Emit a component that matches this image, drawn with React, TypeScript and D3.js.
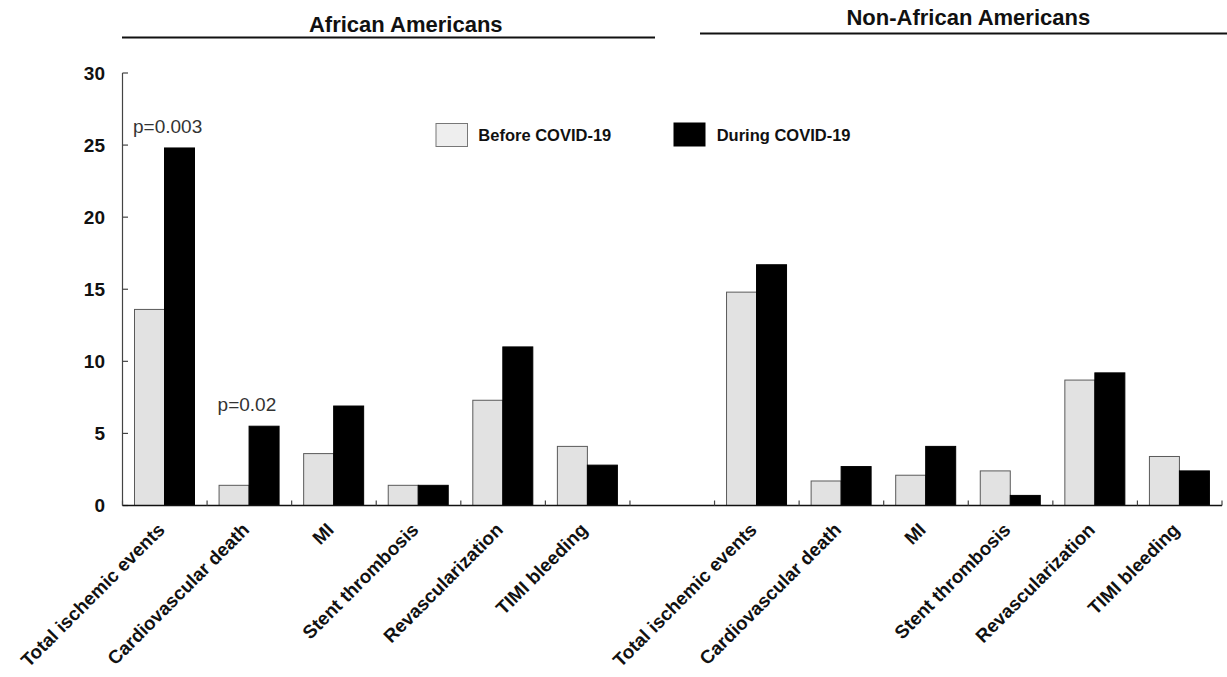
import React from "react";
import * as d3 from "d3";

// Outcome categories shown in each population panel
const categories: string[] = [
  "Total ischemic events",
  "Cardiovascular death",
  "MI",
  "Stent thrombosis",
  "Revascularization",
  "TIMI bleeding",
];

const groups: string[] = ["African Americans", "Non-African Americans"];
const seriesNames: string[] = ["Before COVID-19", "During COVID-19"];

// Event rates (%) per category
const beforeAfricanAmerican: number[] = [13.6, 1.4, 3.6, 1.4, 7.3, 4.1];
const duringAfricanAmerican: number[] = [24.8, 5.5, 6.9, 1.4, 11.0, 2.8];
const beforeNonAfricanAmerican: number[] = [14.8, 1.7, 2.1, 2.4, 8.7, 3.4];
const duringNonAfricanAmerican: number[] = [16.7, 2.7, 4.1, 0.7, 9.2, 2.4];

const yTicks: number[] = [0, 5, 10, 15, 20, 25, 30];

// p-value annotations: group index, category index, text
const pValues: { group: number; cat: number; text: string }[] = [
  { group: 0, cat: 0, text: "p=0.003" },
  { group: 0, cat: 1, text: "p=0.02" },
];

const W = 1227;
const H = 677;
const FONT = "'Liberation Sans', Arial, Helvetica, sans-serif";
const LIGHT = "#e2e2e2";

export default function App() {
  // slots: 6 categories, an empty gap slot, 6 categories
  const slotKeys: string[] = [
    ...categories.map((_, i) => `g0-${i}`),
    "gap",
    ...categories.map((_, i) => `g1-${i}`),
  ];
  const x = d3.scaleBand<string>().domain(slotKeys).range([122.5, 1222]).padding(0);
  const inner = d3
    .scaleBand<string>()
    .domain(seriesNames)
    .range([12, 72])
    .padding(0);
  const y = d3.scaleLinear().domain([0, 30]).range([505.5, 73]);

  // seriesByGroup[group][series][category]
  const seriesByGroup: number[][][] = [
    [beforeAfricanAmerican, duringAfricanAmerican],
    [beforeNonAfricanAmerican, duringNonAfricanAmerican],
  ];

  const bars: { key: string; x: number; w: number; v: number; s: number }[] = [];
  groups.forEach((_g, g) => {
    categories.forEach((_c, c) => {
      seriesNames.forEach((sn, s) => {
        bars.push({
          key: `${g}-${c}-${s}`,
          x: (x(`g${g}-${c}`) as number) + (inner(sn) as number),
          w: inner.bandwidth(),
          v: seriesByGroup[g][s][c],
          s,
        });
      });
    });
  });

  const boundaries = d3.range(slotKeys.length + 1).map(
    (i) => x.range()[0] + i * x.step()
  );

  const labelSlots = slotKeys.filter((k) => k !== "gap");

  return (
    <svg
      width={W}
      height={H}
      viewBox={`0 0 ${W} ${H}`}
      style={{ position: "absolute", left: 0, top: 0, display: "block", background: "#fff" }}
      fontFamily={FONT}
    >
      <rect x={0} y={0} width={W} height={H} fill="#fff" />

      {/* Panel headers */}
      <text x={405.8} y={31.7} textAnchor="middle" fontSize={22} fontWeight="bold" fill="#111">
        {groups[0]}
      </text>
      <line x1={122} x2={655} y1={37.5} y2={37.5} stroke="#111" strokeWidth={2} />
      <text x={968.3} y={25} textAnchor="middle" fontSize={22} fontWeight="bold" fill="#111">
        {groups[1]}
      </text>
      <line x1={700} x2={1227} y1={33.5} y2={33.5} stroke="#111" strokeWidth={2} />

      {/* Bars */}
      {bars.map((b) => (
        <rect
          key={b.key}
          x={b.x}
          y={y(b.v)}
          width={b.w}
          height={y(0) - y(b.v)}
          fill={b.s === 0 ? LIGHT : "#000"}
          stroke={b.s === 0 ? "#5a5a5a" : "#000"}
          strokeWidth={1}
        />
      ))}

      {/* Y axis */}
      <line x1={122.5} x2={122.5} y1={y(30)} y2={y(0)} stroke="#444" strokeWidth={1.2} />
      {yTicks.map((t) => (
        <g key={t}>
          <line x1={122.5} x2={128} y1={y(t)} y2={y(t)} stroke="#444" strokeWidth={1.2} />
          <text
            x={105}
            y={y(t)}
            dy="0.36em"
            textAnchor="end"
            fontSize={19}
            fontWeight="bold"
            fill="#111"
          >
            {t}
          </text>
        </g>
      ))}

      {/* X axis */}
      <line x1={122.5} x2={1222} y1={y(0)} y2={y(0)} stroke="#111" strokeWidth={1.5} />
      {boundaries.map((bx, i) => (
        <line key={i} x1={bx} x2={bx} y1={y(0)} y2={y(0) - 5} stroke="#444" strokeWidth={1.2} />
      ))}

      {/* Category labels */}
      {labelSlots.map((k) => {
        const c = +k.split("-")[1];
        const cx = (x(k) as number) + x.bandwidth() / 2 + 1;
        const cy = 531;
        return (
          <text
            key={k}
            x={cx}
            y={cy}
            textAnchor="end"
            fontSize={18.8}
            fontWeight="bold"
            fill="#111"
            transform={`rotate(-45, ${cx}, ${cy})`}
          >
            {categories[c]}
          </text>
        );
      })}

      {/* p-values */}
      {pValues.map((p) => {
        const sx = x(`g${p.group}-${p.cat}`) as number;
        const top = Math.max(
          seriesByGroup[p.group][0][p.cat],
          seriesByGroup[p.group][1][p.cat]
        );
        return (
          <text key={p.text} x={sx + 10.5} y={y(top) - 15} fontSize={19} fill="#333">
            {p.text}
          </text>
        );
      })}

      {/* Legend */}
      <rect x={436} y={123.5} width={31.5} height={23} fill="#eeeeee" stroke="#777" strokeWidth={1} />
      <text x={478.3} y={135} dy="0.36em" fontSize={16.5} fontWeight="bold" fill="#111">
        {seriesNames[0]}
      </text>
      <rect x={673.5} y={122.5} width={32} height={24} fill="#000" />
      <text x={716.7} y={135} dy="0.36em" fontSize={16.5} fontWeight="bold" fill="#111">
        {seriesNames[1]}
      </text>
    </svg>
  );
}
